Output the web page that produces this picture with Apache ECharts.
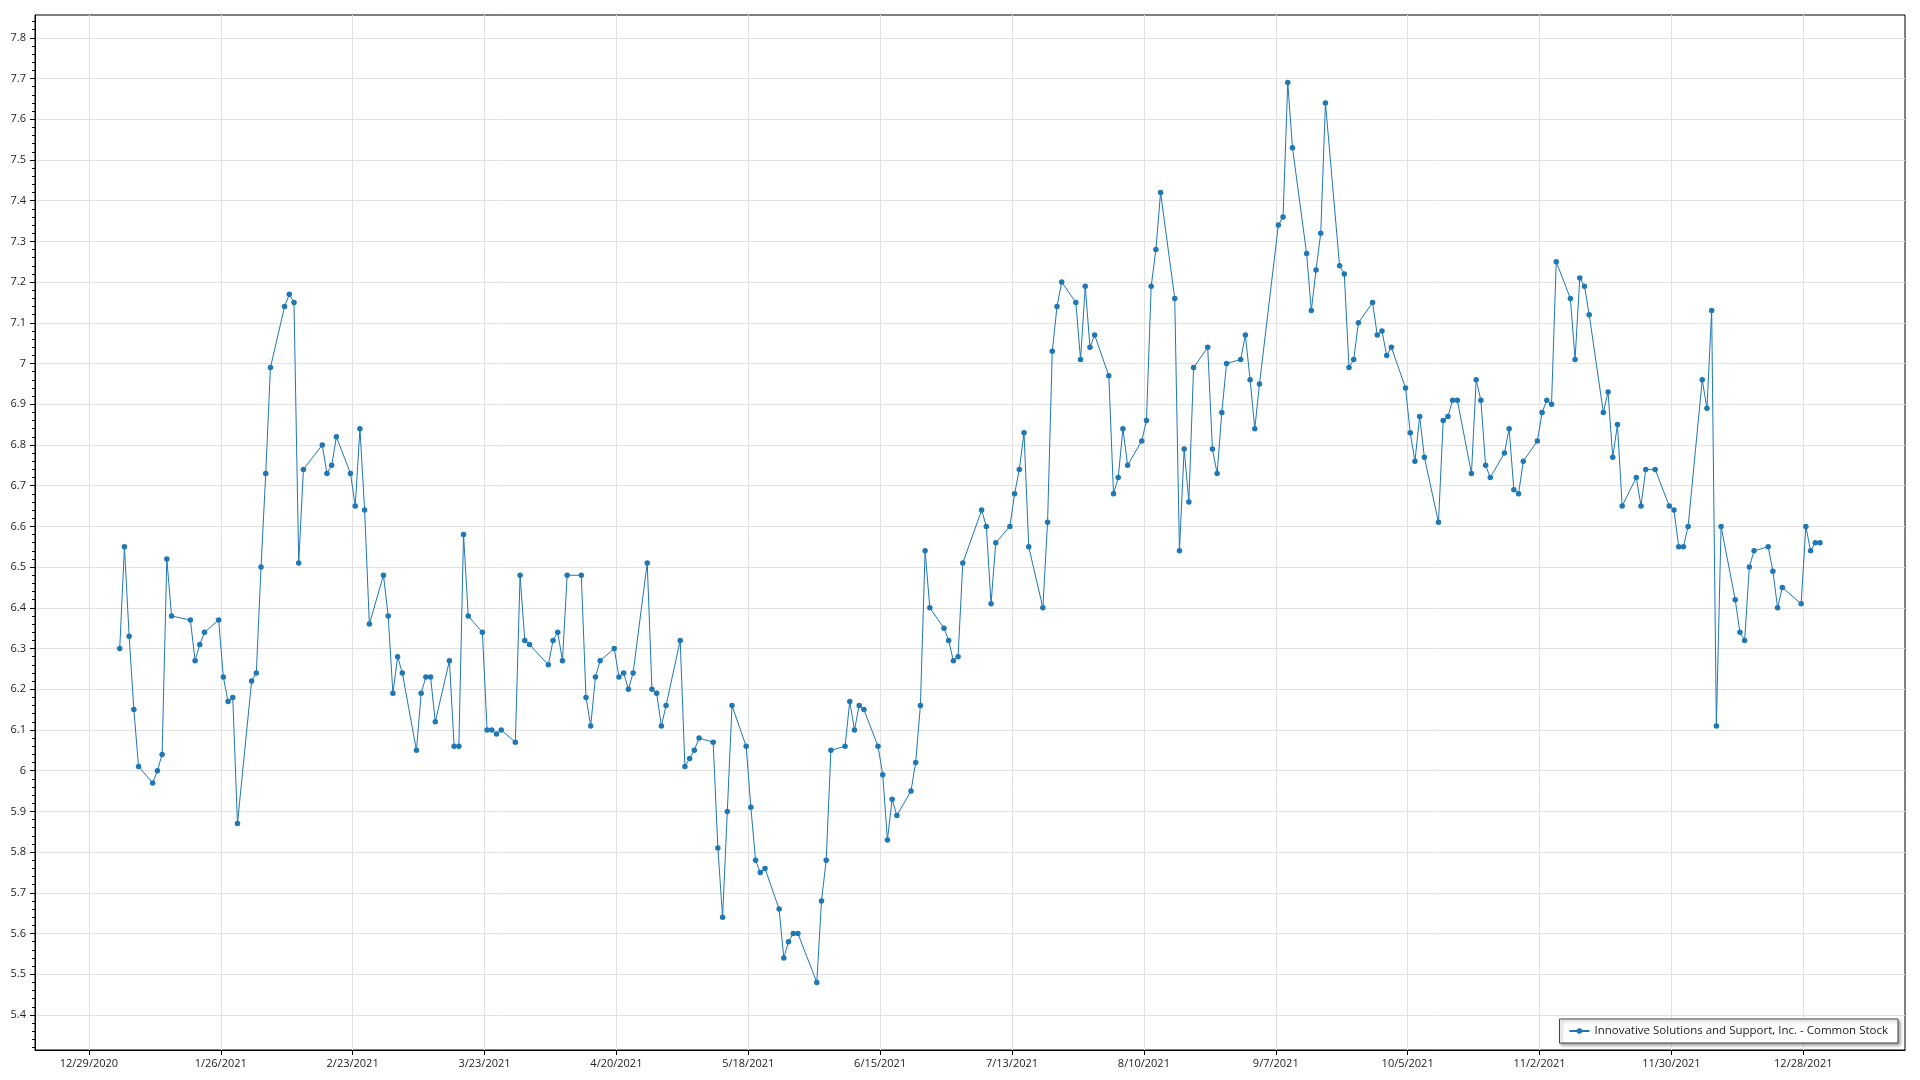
<!DOCTYPE html>
<html>
<head>
<meta charset="utf-8">
<script src="https://cdn.jsdelivr.net/npm/echarts@6/dist/echarts.min.js"></script>
<style>
html,body{margin:0;padding:0;background:#fff;}
#chart{width:1920px;height:1080px;}
</style>
</head>
<body>
<div id="chart"></div>
<script>
const SERIES_NAME = 'Innovative Solutions and Support, Inc. - Common Stock';

const TRADE_DATES = [
'2021-01-04','2021-01-05','2021-01-06','2021-01-07','2021-01-08','2021-01-11','2021-01-12','2021-01-13','2021-01-14','2021-01-15','2021-01-19','2021-01-20','2021-01-21','2021-01-22','2021-01-25','2021-01-26','2021-01-27','2021-01-28','2021-01-29',
'2021-02-01','2021-02-02','2021-02-03','2021-02-04','2021-02-05','2021-02-08','2021-02-09','2021-02-10','2021-02-11','2021-02-12','2021-02-16','2021-02-17','2021-02-18','2021-02-19','2021-02-22','2021-02-23','2021-02-24','2021-02-25','2021-02-26',
'2021-03-01','2021-03-02','2021-03-03','2021-03-04','2021-03-05','2021-03-08','2021-03-09','2021-03-10','2021-03-11','2021-03-12','2021-03-15','2021-03-16','2021-03-17','2021-03-18','2021-03-19','2021-03-22','2021-03-23','2021-03-24','2021-03-25','2021-03-26','2021-03-29','2021-03-30','2021-03-31',
'2021-04-01','2021-04-05','2021-04-06','2021-04-07','2021-04-08','2021-04-09','2021-04-12','2021-04-13','2021-04-14','2021-04-15','2021-04-16','2021-04-19','2021-04-20','2021-04-21','2021-04-22','2021-04-23','2021-04-26','2021-04-27','2021-04-28','2021-04-29','2021-04-30',
'2021-05-03','2021-05-04','2021-05-05','2021-05-06','2021-05-07','2021-05-10','2021-05-11','2021-05-12','2021-05-13','2021-05-14','2021-05-17','2021-05-18','2021-05-19','2021-05-20','2021-05-21','2021-05-24','2021-05-25','2021-05-26','2021-05-27','2021-05-28',
'2021-06-01','2021-06-02','2021-06-03','2021-06-04','2021-06-07','2021-06-08','2021-06-09','2021-06-10','2021-06-11','2021-06-14','2021-06-15','2021-06-16','2021-06-17','2021-06-18','2021-06-21','2021-06-22','2021-06-23','2021-06-24','2021-06-25','2021-06-28','2021-06-29','2021-06-30',
'2021-07-01','2021-07-02','2021-07-06','2021-07-07','2021-07-08','2021-07-09','2021-07-12','2021-07-13','2021-07-14','2021-07-15','2021-07-16','2021-07-19','2021-07-20','2021-07-21','2021-07-22','2021-07-23','2021-07-26','2021-07-27','2021-07-28','2021-07-29','2021-07-30',
'2021-08-02','2021-08-03','2021-08-04','2021-08-05','2021-08-06','2021-08-09','2021-08-10','2021-08-11','2021-08-12','2021-08-13','2021-08-16','2021-08-17','2021-08-18','2021-08-19','2021-08-20','2021-08-23','2021-08-24','2021-08-25','2021-08-26','2021-08-27','2021-08-30','2021-08-31',
'2021-09-01','2021-09-02','2021-09-03','2021-09-07','2021-09-08','2021-09-09','2021-09-10','2021-09-13','2021-09-14','2021-09-15','2021-09-16','2021-09-17','2021-09-20','2021-09-21','2021-09-22','2021-09-23','2021-09-24','2021-09-27','2021-09-28','2021-09-29','2021-09-30',
'2021-10-01','2021-10-04','2021-10-05','2021-10-06','2021-10-07','2021-10-08','2021-10-11','2021-10-12','2021-10-13','2021-10-14','2021-10-15','2021-10-18','2021-10-19','2021-10-20','2021-10-21','2021-10-22','2021-10-25','2021-10-26','2021-10-27','2021-10-28','2021-10-29',
'2021-11-01','2021-11-02','2021-11-03','2021-11-04','2021-11-05','2021-11-08','2021-11-09','2021-11-10','2021-11-11','2021-11-12','2021-11-15','2021-11-16','2021-11-17','2021-11-18','2021-11-19','2021-11-22','2021-11-23','2021-11-24','2021-11-26','2021-11-29','2021-11-30',
'2021-12-01','2021-12-02','2021-12-03','2021-12-06','2021-12-07','2021-12-08','2021-12-09','2021-12-10','2021-12-13','2021-12-14','2021-12-15','2021-12-16','2021-12-17','2021-12-20','2021-12-21','2021-12-22','2021-12-23','2021-12-27','2021-12-28','2021-12-29','2021-12-30','2021-12-31'
];

const CLOSE_PRICES = [
6.30,6.55,6.33,6.15,6.01,5.97,6.00,6.04,6.52,6.38,6.37,6.27,6.31,6.34,6.37,6.23,6.17,6.18,5.87,
6.22,6.24,6.50,6.73,6.99,7.14,7.17,7.15,6.51,6.74,6.80,6.73,6.75,6.82,6.73,6.65,6.84,6.64,6.36,
6.48,6.38,6.19,6.28,6.24,6.05,6.19,6.23,6.23,6.12,6.27,6.06,6.06,6.58,6.38,6.34,6.10,6.10,6.09,6.10,6.07,6.48,6.32,
6.31,6.26,6.32,6.34,6.27,6.48,6.48,6.18,6.11,6.23,6.27,6.30,6.23,6.24,6.20,6.24,6.51,6.20,6.19,6.11,6.16,
6.32,6.01,6.03,6.05,6.08,6.07,5.81,5.64,5.90,6.16,6.06,5.91,5.78,5.75,5.76,5.66,5.54,5.58,5.60,5.60,
5.48,5.68,5.78,6.05,6.06,6.17,6.10,6.16,6.15,6.06,5.99,5.83,5.93,5.89,5.95,6.02,6.16,6.54,6.40,6.35,6.32,6.27,
6.28,6.51,6.64,6.60,6.41,6.56,6.60,6.68,6.74,6.83,6.55,6.40,6.61,7.03,7.14,7.20,7.15,7.01,7.19,7.04,7.07,
6.97,6.68,6.72,6.84,6.75,6.81,6.86,7.19,7.28,7.42,7.16,6.54,6.79,6.66,6.99,7.04,6.79,6.73,6.88,7.00,7.01,7.07,
6.96,6.84,6.95,7.34,7.36,7.69,7.53,7.27,7.13,7.23,7.32,7.64,7.24,7.22,6.99,7.01,7.10,7.15,7.07,7.08,7.02,
7.04,6.94,6.83,6.76,6.87,6.77,6.61,6.86,6.87,6.91,6.91,6.73,6.96,6.91,6.75,6.72,6.78,6.84,6.69,6.68,6.76,
6.81,6.88,6.91,6.90,7.25,7.16,7.01,7.21,7.19,7.12,6.88,6.93,6.77,6.85,6.65,6.72,6.65,6.74,6.74,6.65,6.64,
6.55,6.55,6.60,6.96,6.89,7.13,6.11,6.60,6.42,6.34,6.32,6.50,6.54,6.55,6.49,6.40,6.45,6.41,6.60,6.54,6.56,6.56
];

const X_TICK_LABELS = ['12/29/2020','1/26/2021','2/23/2021','3/23/2021','4/20/2021','5/18/2021','6/15/2021','7/13/2021','8/10/2021','9/7/2021','10/5/2021','11/2/2021','11/30/2021','12/28/2021'];
const Y_TICK_LABELS = [5.4,5.5,5.6,5.7,5.8,5.9,6.0,6.1,6.2,6.3,6.4,6.5,6.6,6.7,6.8,6.9,7.0,7.1,7.2,7.3,7.4,7.5,7.6,7.7,7.8];

const DAY = 86400000;
const POINT_SHIFT = 0.55 * DAY;
function parseISO(s){const p=s.split('-').map(Number);return Date.UTC(p[0],p[1]-1,p[2]);}
function parseUS(s){const p=s.split('/').map(Number);return Date.UTC(p[2],p[0]-1,p[1]);}
function fmtUS(v){const d=new Date(v);return (d.getUTCMonth()+1)+'/'+d.getUTCDate()+'/'+d.getUTCFullYear();}

const xTickValues = X_TICK_LABELS.map(parseUS);
const seriesData = TRADE_DATES.map((d,i)=>[parseISO(d)+POINT_SHIFT, CLOSE_PRICES[i]]);
const X_MIN = parseUS('12/17/2020') + 0.56*DAY;
const X_MAX = parseUS('1/18/2022') + 0.6*DAY;
const Y_MIN = 5.314, Y_MAX = 7.856;

const yMinor = [];
for (let k = 266; k <= 392; k++) { if (k % 5 !== 0) yMinor.push(+(k*0.02).toFixed(2)); }

const FONT = '"Segoe UI","Open Sans","Noto Sans",sans-serif';
const chart = echarts.init(document.getElementById('chart'), null, {renderer:'canvas'});
chart.setOption({
  animation:false,
  backgroundColor:'#ffffff',
  grid:{left:35,right:15,top:15,bottom:30,show:true,borderColor:'#000',borderWidth:1,backgroundColor:'transparent',containLabel:false},
  legend:{
    show:true, right:22, bottom:37, orient:'horizontal',
    backgroundColor:'#fff', borderColor:'#444', borderWidth:1, borderRadius:0,
    shadowBlur:3, shadowColor:'rgba(0,0,0,0.35)', shadowOffsetX:2, shadowOffsetY:2,
    padding:[6,10,6,9], itemWidth:20, itemHeight:7, itemGap:5,
    textStyle:{fontSize:11.5,color:'#222',fontFamily:FONT},
    data:[SERIES_NAME]
  },
  xAxis:{
    type:'value', min:X_MIN, max:X_MAX,
    axisLine:{show:true,onZero:false,lineStyle:{color:'#000',width:1}},
    axisTick:{show:true,length:5,customValues:xTickValues,lineStyle:{color:'#000'}},
    axisLabel:{customValues:xTickValues,formatter:fmtUS,fontSize:11,color:'#222',margin:8,fontFamily:FONT},
    splitLine:{show:true,lineStyle:{color:'#e2e2e2',width:1}}
  },
  yAxis:[{
    type:'value', min:Y_MIN, max:Y_MAX, position:'left',
    axisLine:{show:true,onZero:false,lineStyle:{color:'#000',width:1}},
    axisTick:{show:true,length:5,customValues:Y_TICK_LABELS,lineStyle:{color:'#000'}},
    axisLabel:{customValues:Y_TICK_LABELS,formatter:v=>String(+(+v).toFixed(1)),fontSize:11,color:'#222',margin:9,fontFamily:FONT},
    splitLine:{show:true,lineStyle:{color:'#e2e2e2',width:1}}
  },{
    type:'value', min:Y_MIN, max:Y_MAX, position:'left',
    axisLine:{show:false},
    axisTick:{show:true,length:3,customValues:yMinor,lineStyle:{color:'#000'}},
    axisLabel:{show:false},
    splitLine:{show:false}
  }],
  series:[{
    name:SERIES_NAME, type:'line', data:seriesData,
    symbol:'circle', symbolSize:5.5, showSymbol:true,
    lineStyle:{color:'#1f77b4',width:1},
    itemStyle:{color:'#1f77b4'},
    emphasis:{disabled:true}
  }]
});
</script>
</body>
</html>
